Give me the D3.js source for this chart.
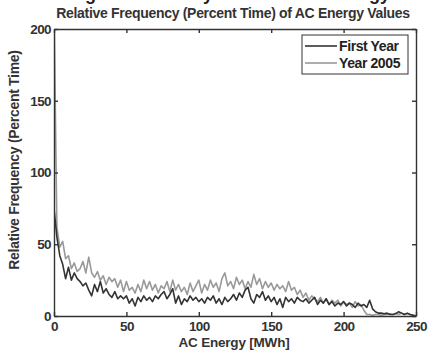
<!DOCTYPE html>
<html>
<head>
<meta charset="utf-8">
<script src="https://cdn.jsdelivr.net/npm/d3@7"></script>
<style>
  body { margin: 0; background: #fff; }
  svg { display: block; font-family: "Liberation Sans", Arial, sans-serif; font-weight: bold; }
</style>
</head>
<body>
<div id="container"></div>
<script>
'use strict';

// energy bins (MWh), 2 MWh apart
const energyBins = d3.range(0, 251, 2);

// percent time per bin, first year
const firstYear = [
  75, 55, 42, 36, 26, 34, 25, 30, 26, 24,
  21, 23, 18, 14, 22, 17, 24, 16, 19, 15,
  13, 17, 12, 14, 12, 14, 9, 12, 7, 13,
  10, 14, 11, 13, 10, 14, 12, 15, 17, 12,
  15, 19, 9, 14, 8, 12, 10, 14, 11, 13,
  10, 12, 9, 13, 11, 14, 9, 12, 8, 13,
  10, 12, 15, 11, 16, 13, 18, 20, 12, 9,
  15, 13, 17, 11, 14, 10, 13, 8, 12, 6,
  13, 10, 12, 9, 13, 11, 10, 12, 9, 11,
  13, 8, 11, 9, 12, 8, 10, 7, 9, 8,
  10, 7, 9, 8, 6, 9, 7, 8, 6, 11,
  5, 3, 2, 2, 1.5, 2, 1, 1, 1.5, 3,
  2, 1, 2, 1, 0.5, 0
];

// percent time per bin, year 2005
const year2005 = [
  215, 62, 48, 52, 40, 42, 33, 37, 31, 33,
  38, 30, 41, 30, 27, 31, 25, 28, 22, 27,
  24, 26, 20, 25, 17, 24, 18, 20, 16, 22,
  17, 25, 19, 24, 18, 22, 16, 21, 19, 24,
  17, 25, 18, 22, 17, 20, 15, 23, 17, 21,
  25, 16, 22, 18, 25, 20, 23, 17, 26, 30,
  21, 24, 19, 27, 22, 25, 19, 24, 20, 29,
  22, 26, 19, 24, 20, 23, 18, 22, 19, 21,
  17, 24, 18, 20, 15, 18, 13, 16, 11, 14,
  12, 10, 13, 9, 12, 8, 11, 9, 11, 7,
  10, 8, 9, 6, 10, 7, 8, 4, 1, 1,
  0.5, 1, 1, 0.5, 1, 1, 1.5, 1, 2, 1,
  2, 1, 1.5, 1, 0.5, 0
];

const seriesNames = ["First Year", "Year 2005"];
const xTicks = [0, 50, 100, 150, 200, 250];
const yTicks = [0, 50, 100, 150, 200];

const width = 428,
      height = 350,
      margin = {top: 29, right: 12, bottom: 34, left: 54};

const colors = {"First Year": "#333333", "Year 2005": "#999999"};

const svg = d3.select("#container")
  .append("svg")
  .attr("width", width)
  .attr("height", height);

const xScale = d3.scaleLinear()
  .domain([0, 250])
  .range([margin.left, width - margin.right]);

const yScale = d3.scaleLinear()
  .domain([0, 200])
  .range([height - margin.bottom, margin.top]);

// main title sits above the page edge, only its descenders show
svg.append("text")
  .attr("x", 215)
  .attr("y", 0)
  .attr("text-anchor", "middle")
  .attr("font-size", 18)
  .attr("fill", "#222")
  .text("Histogram of Hourly Total Net AC Energy");

svg.append("text")
  .attr("x", 233)
  .attr("y", 18)
  .attr("text-anchor", "middle")
  .attr("font-size", 14)
  .attr("letter-spacing", -0.3)
  .attr("fill", "#333")
  .text("Relative Frequency (Percent Time) of AC Energy Values");

svg.append("clipPath")
  .attr("id", "plot-clip")
  .append("rect")
  .attr("x", margin.left)
  .attr("y", margin.top)
  .attr("width", width - margin.left - margin.right)
  .attr("height", height - margin.top - margin.bottom);

const line = d3.line()
  .x((d, i) => xScale(energyBins[i]))
  .y(d => yScale(d));

const plot = svg.append("g").attr("clip-path", "url(#plot-clip)");

// year 2005 drawn first, first year on top
plot.append("path")
  .datum(year2005)
  .attr("fill", "none")
  .attr("stroke", colors["Year 2005"])
  .attr("stroke-width", 1.6)
  .attr("stroke-linejoin", "round")
  .attr("d", line);

plot.append("path")
  .datum(firstYear)
  .attr("fill", "none")
  .attr("stroke", colors["First Year"])
  .attr("stroke-width", 1.6)
  .attr("stroke-linejoin", "round")
  .attr("d", line);

// axes, ticks pointing inward on all four sides
const tickLen = 4;
const axisBottom = d3.axisBottom(xScale).tickValues(xTicks).tickSizeInner(-tickLen).tickSizeOuter(0).tickPadding(5);
const axisTop = d3.axisTop(xScale).tickValues(xTicks).tickSizeInner(-tickLen).tickSizeOuter(0).tickFormat("");
const axisLeft = d3.axisLeft(yScale).tickValues(yTicks).tickSizeInner(-tickLen).tickSizeOuter(0).tickPadding(3);
const axisRight = d3.axisRight(yScale).tickValues(yTicks).tickSizeInner(-tickLen).tickSizeOuter(0).tickFormat("");

svg.append("g")
  .attr("class", "axis x-axis")
  .attr("transform", `translate(0, ${height - margin.bottom})`)
  .call(axisBottom);

svg.append("g")
  .attr("class", "axis")
  .attr("transform", `translate(0, ${margin.top})`)
  .call(axisTop);

svg.append("g")
  .attr("class", "axis y-axis")
  .attr("transform", `translate(${margin.left}, 0)`)
  .call(axisLeft);

svg.append("g")
  .attr("class", "axis")
  .attr("transform", `translate(${width - margin.right}, 0)`)
  .call(axisRight);

svg.selectAll(".axis path, .axis line")
  .attr("stroke", "#333")
  .attr("stroke-width", 1.4);

svg.selectAll(".axis text")
  .attr("font-family", "Liberation Sans, Arial, sans-serif")
  .attr("font-weight", "bold")
  .attr("font-size", 13.5)
  .attr("letter-spacing", -0.6)
  .attr("fill", "#333");

svg.append("text")
  .attr("class", "axis-label")
  .attr("x", 234)
  .attr("y", 347)
  .attr("text-anchor", "middle")
  .attr("font-size", 13.5)
  .attr("letter-spacing", -0.2)
  .attr("fill", "#333")
  .text("AC Energy [MWh]");

svg.append("text")
  .attr("class", "axis-label")
  .attr("transform", "translate(19, 160) rotate(-90)")
  .attr("text-anchor", "middle")
  .attr("font-size", 14)
  .attr("letter-spacing", -0.3)
  .attr("fill", "#333")
  .text("Relative Frequency (Percent Time)");

// legend
const legend = svg.append("g").attr("class", "legend");

legend.append("rect")
  .attr("x", 302)
  .attr("y", 35)
  .attr("width", 106)
  .attr("height", 39)
  .attr("fill", "#fff")
  .attr("stroke", "#333")
  .attr("stroke-width", 1);

const entries = legend.selectAll(".entry")
  .data(seriesNames)
  .join("g")
  .attr("class", "entry")
  .attr("transform", (d, i) => `translate(0, ${46 + i * 17})`);

entries.append("line")
  .attr("x1", 305)
  .attr("x2", 337)
  .attr("stroke", d => colors[d])
  .attr("stroke-width", 1.6);

entries.append("text")
  .attr("x", 339)
  .attr("dy", "0.35em")
  .attr("font-size", 14)
  .attr("letter-spacing", -0.4)
  .attr("fill", "#222")
  .text(d => d);
</script>
</body>
</html>
